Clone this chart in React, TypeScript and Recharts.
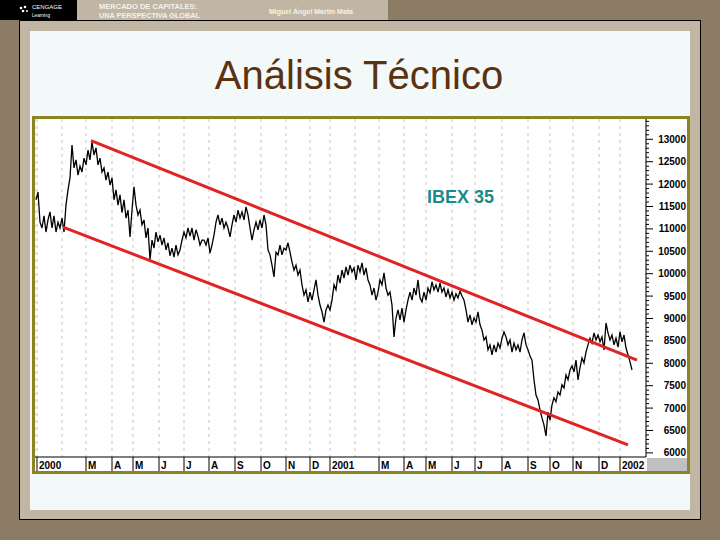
import { LineChart, Line, XAxis, YAxis, CartesianGrid, ReferenceLine } from 'recharts';

// IBEX 35, one reading every ~2 sessions, Jan 2000 - Jan 2002
const prices = [
  11650, 11820, 11150, 11020, 11290, 10930, 11200, 11380, 11020, 11290, 10930, 11150, 11020, 11240, 10930,
  11530, 11870, 12140, 12870, 12360, 12540, 12200, 12400, 12270, 12580, 12430, 12760, 12540, 12940, 12650,
  12810, 12430, 12580, 12270, 12360, 12090, 12270, 11980, 12140, 11650, 11870, 11530, 11760, 11360, 11650,
  11240, 11420, 10820, 11420, 11940, 11530, 11310, 11420, 11090, 11200, 10800, 11020, 10310, 10750, 10570,
  10930, 10710, 10860, 10640, 10800, 10530, 10690, 10400, 10570, 10370, 10640, 10420, 10530, 10750, 10930,
  10800, 11020, 10840, 11020, 10750, 10980, 10840, 10640, 10750, 10750, 10640, 10800, 10460, 10640, 10860,
  11150, 11310, 11090, 11240, 11020, 11150, 11020, 10820, 11090, 11310, 11150, 11420, 11240, 11380, 11200,
  11490, 11310, 11020, 10750, 10980, 11150, 10980, 11200, 11020, 11310, 11090, 10530, 10420, 10190, 9930,
  10480, 10420, 10640, 10420, 10570, 10530, 10690, 10480, 10260, 10080, 10190, 9970, 10080, 9750, 9520,
  9640, 9370, 9590, 9410, 9640, 9860, 9520, 9300, 9150, 8920, 9190, 9300, 9190, 9410, 9750,
  9640, 9970, 9790, 10080, 9900, 10150, 9970, 10190, 10040, 10130, 9860, 10190, 10040, 10240, 9970,
  10130, 9860, 9750, 9520, 9680, 9410, 9590, 9860, 9750, 10020, 9680, 9520, 9590, 9300, 8590,
  9010, 9190, 8970, 9230, 8920, 9190, 9410, 9590, 9410, 9680, 9520, 9860, 9460, 9370, 9590,
  9410, 9680, 9570, 9820, 9640, 9750, 9590, 9790, 9590, 9680, 9480, 9640, 9460, 9590, 9410,
  9550, 9460, 9610, 9500, 9410, 9190, 8920, 9080, 8860, 9010, 8920, 9150, 8860, 8740, 8520,
  8590, 8300, 8410, 8190, 8410, 8250, 8450, 8340, 8560, 8700, 8590, 8410, 8520, 8250, 8450,
  8300, 8410, 8250, 8520, 8680, 8410, 8300, 8160, 8070, 7630, 7290, 7180, 6960, 6780, 6620,
  6380, 6910, 6730, 7070, 7230, 7140, 7360, 7290, 7520, 7450, 7740, 7630, 7850, 7940, 7810,
  8070, 7630, 7900, 8120, 8010, 8250, 8410, 8560, 8450, 8680, 8520, 8630, 8480, 8590, 8300,
  8900, 8680, 8520, 8630, 8410, 8560, 8360, 8700, 8480, 8630, 8340, 8190, 8030, 7850,
];

// month starts (in sample units) and their labels; Feb has a gridline but no label
const monthTicks = [0.5, 13, 25, 38, 48.5, 61.5, 74, 86.5, 99.5, 112.5, 125, 137, 147, 159.5, 171.5, 184, 195, 208, 219.5, 233, 246, 257, 268.5, 281.5, 292];
const monthLabels = ['2000', '', 'M', 'A', 'M', 'J', 'J', 'A', 'S', 'O', 'N', 'D', '2001', '', 'M', 'A', 'M', 'J', 'J', 'A', 'S', 'O', 'N', 'D', '2002'];

const majorTicks = [6000, 6500, 7000, 7500, 8000, 8500, 9000, 9500, 10000, 10500, 11000, 11500, 12000, 12500, 13000];
const yTicks: number[] = [];
for (let v = 6000; v <= 13400; v += 100) yTicks.push(v);

// channel lines drawn on the chart
const upperChannel = [{ i: 27.5, v: 12970 }, { i: 300.5, v: 8070 }];
const lowerChannel = [{ i: 13.5, v: 11040 }, { i: 296, v: 6180 }];

const data = prices.map((v, i) => ({ i, v }));

const FONT = '"Liberation Sans", Arial, sans-serif';

const XTick = (props: any) => {
  const { x, y, payload } = props;
  const label = monthLabels[monthTicks.indexOf(payload.value)];
  if (!label) return <g />;
  return (
    <g>
      <line x1={x} y1={y} x2={x} y2={y + 14} stroke="#000" />
      <text x={x + 2} y={y + 11.5} fontSize={10} fontWeight="bold" fill="#000" fontFamily={FONT}>
        {label}
      </text>
    </g>
  );
};

const YTick = (props: any) => {
  const { x, y, payload } = props;
  const major = majorTicks.includes(payload.value);
  return (
    <g>
      <line x1={x} y1={y} x2={x + (major ? 7 : 3)} y2={y} stroke="#000" />
      {major && (
        <text x={x + 40} y={y + 3.5} textAnchor="end" fontSize={10} fontWeight="bold" fill="#000" fontFamily={FONT}>
          {payload.value}
        </text>
      )}
    </g>
  );
};

export default function App() {
  return (
    <div style={{ position: 'absolute', left: 0, top: 0, width: 720, height: 540, overflow: 'hidden', background: '#8c7c66', fontFamily: FONT }}>
      <svg width={720} height={540} style={{ position: 'absolute', left: 0, top: 0 }}>
        <rect x={0} y={0} width={77} height={20} fill="#000" />
        <rect x={77} y={0} width={311} height={20} fill="#c1b6a3" />
        <rect x={19.5} y={20.5} width={681} height={499} fill="#c1b6a3" stroke="#000" />
        <rect x={30} y={31} width={660} height={479} fill="#f3f8f8" />

        <circle cx={21} cy={8} r={1.3} fill="#fff" />
        <circle cx={25} cy={7} r={1.3} fill="#fff" />
        <circle cx={23} cy={11} r={1.3} fill="#fff" />
        <circle cx={27} cy={11} r={1} fill="#fff" />
        <text x={32} y={9} fontSize={6} fill="#fff" textLength={30} lengthAdjust="spacingAndGlyphs">CENGAGE</text>
        <text x={32} y={16.5} fontSize={5.5} fill="#fff" textLength={18} lengthAdjust="spacingAndGlyphs">Learning</text>

        <text x={99} y={8.8} fontSize={7.5} fontWeight="bold" fill="#f6f2ea" textLength={98} lengthAdjust="spacingAndGlyphs">MERCADO DE CAPITALES:</text>
        <text x={99} y={17.6} fontSize={7.5} fontWeight="bold" fill="#f6f2ea" textLength={101} lengthAdjust="spacingAndGlyphs">UNA PERSPECTIVA GLOBAL</text>
        <text x={269} y={13.5} fontSize={8} fontWeight="bold" fill="#f6f2ea" textLength={84} lengthAdjust="spacingAndGlyphs">Miguel Ángel Martín Mata</text>

        <text x={359} y={89} textAnchor="middle" fontSize={40} fill="#5a3210" fontFamily={FONT}>Análisis Técnico</text>

        <rect x={33.5} y={117.5} width={655} height={355} fill="#fff" stroke="#8b8422" strokeWidth={3} />
        <rect x={647} y={458} width={40} height={13} fill="#c0c0c0" />
      </svg>

      <div style={{ position: 'absolute', left: 35, top: 119, width: 652, height: 352 }}>
        <LineChart width={652} height={352} data={data} margin={{ top: 0, right: 0, bottom: 0, left: 0 }}>
          <CartesianGrid horizontal={false} stroke="#c4c4c4" strokeDasharray="3 4" />
          <XAxis
            dataKey="i"
            type="number"
            domain={[-0.5, 305]}
            ticks={monthTicks}
            interval={0}
            height={14}
            tickSize={0}
            tickMargin={0}
            tickLine={false}
            axisLine={{ stroke: '#000' }}
            tick={<XTick />}
            allowDataOverflow
          />
          <YAxis
            orientation="right"
            type="number"
            domain={[5908, 13453]}
            ticks={yTicks}
            interval={0}
            width={41}
            tickSize={0}
            tickMargin={0}
            tickLine={false}
            axisLine={{ stroke: '#000' }}
            tick={<YTick />}
            allowDataOverflow
          />
          <Line type="linear" dataKey="v" stroke="#000" strokeWidth={1.3} dot={false} isAnimationActive={false} />
          <ReferenceLine
            segment={[{ x: upperChannel[0].i, y: upperChannel[0].v }, { x: upperChannel[1].i, y: upperChannel[1].v }]}
            stroke="#e02424"
            strokeWidth={3}
          />
          <ReferenceLine
            segment={[{ x: lowerChannel[0].i, y: lowerChannel[0].v }, { x: lowerChannel[1].i, y: lowerChannel[1].v }]}
            stroke="#e02424"
            strokeWidth={3}
          />
        </LineChart>
      </div>

      <svg width={720} height={540} style={{ position: 'absolute', left: 0, top: 0, pointerEvents: 'none' }}>
        <text x={427} y={203} fontSize={18} fontWeight="bold" fill="#1a8b8b" fontFamily={FONT}>IBEX 35</text>
      </svg>
    </div>
  );
}
